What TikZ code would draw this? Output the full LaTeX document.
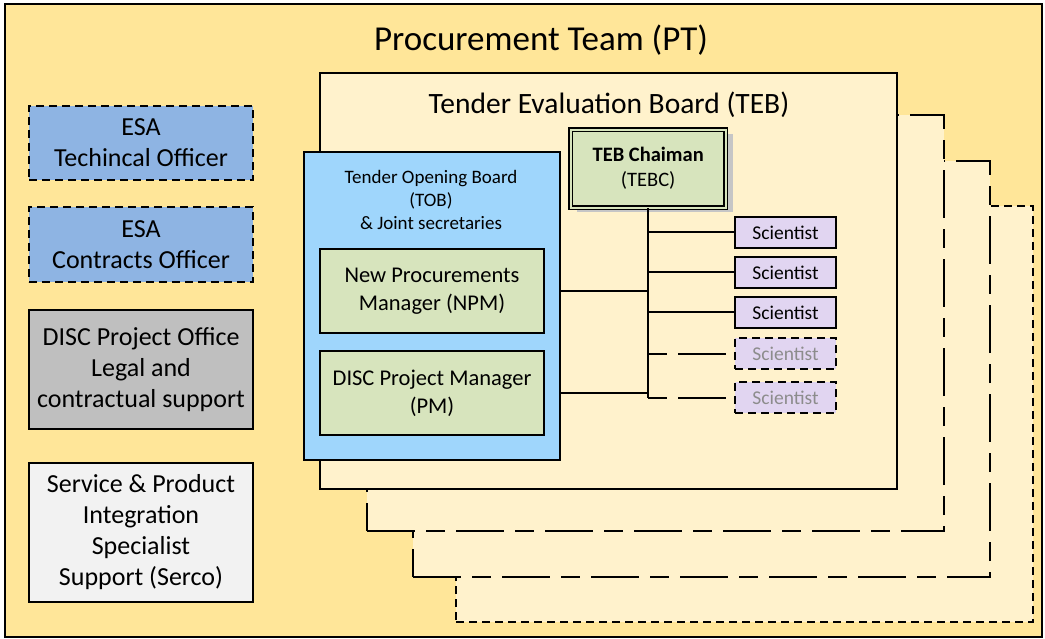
\documentclass[tikz,border=0pt]{standalone}
\usepackage{fontspec}
\setmainfont{Carlito}
\definecolor{ptbg}{HTML}{FFE699}
\definecolor{cream}{HTML}{FFF2CC}
\definecolor{tobblue}{HTML}{9FD6FC}
\definecolor{mgrgreen}{HTML}{D7E4BD}
\definecolor{lavender}{HTML}{E1D5F1}
\definecolor{esablue}{HTML}{8EB4E3}
\definecolor{officegrey}{HTML}{BFBFBF}
\definecolor{lightgrey}{HTML}{F2F2F2}
\definecolor{shadowgrey}{HTML}{C6C6C6}
\definecolor{fadedtext}{HTML}{8C8C8C}
\begin{document}
\begin{tikzpicture}[x=1pt,y=-1pt,
  box/.style={draw=black, line width=2pt, inner sep=0pt, align=center, anchor=north west},
  board/.style={box, fill=cream, minimum width=577pt, minimum height=416pt},
  longshort/.style={dash pattern=on 48pt off 11pt on 19pt off 11pt},
  shortdash/.style={dash pattern=on 8pt off 5pt},
  sidebox/.style={box, minimum width=224pt, font=\fontsize{26}{31}\selectfont},
  mgrbox/.style={box, fill=mgrgreen, minimum width=224pt, minimum height=84pt, font=\fontsize{22.5}{28}\selectfont},
  scibox/.style={box, fill=lavender, minimum width=101pt, minimum height=31pt, font=\fontsize{19.5}{21}\selectfont},
  faded/.style={scibox, shortdash, text=fadedtext},
  link/.style={line width=2pt},
  dashedlink/.style={line width=2pt, longshort, dash phase=59pt}]
\useasboundingbox (0,0) rectangle (1045,639);
\fill[white] (0,0) rectangle (1045,639);

% Procurement Team frame
\node[box, fill=ptbg, minimum width=1037pt, minimum height=633pt] (pt) at (4,3) {};
\node[font=\fontsize{35}{40}\selectfont] (pttitle) at (541,40) {Procurement Team (PT)};

% Left column of supporting roles
\node[sidebox, fill=esablue, shortdash, minimum height=74pt] (esatech) at (28,105) {ESA\\Techincal Officer};
\node[sidebox, fill=esablue, shortdash, minimum height=75pt] (esacon) at (28,206) {ESA\\Contracts Officer};
\node[sidebox, fill=officegrey, minimum height=119pt] (office) at (28,309) {DISC Project Office\\Legal and\\contractual support};
\node[sidebox, fill=lightgrey, minimum height=139pt] (serco) at (28,462) {Service \& Product\\Integration\\Specialist\\Support (Serco)};

% Stack of evaluation boards, back to front
\node[board, shortdash] (board4) at (455,205) {};
\node[board, longshort] (board3) at (412,160) {};
\node[board, longshort] (board2) at (366,114) {};
\node[board] (teb) at (319,72) {};
\node[font=\fontsize{29.5}{34}\selectfont] (tebtitle) at (609,105) {Tender Evaluation Board (TEB)};

% Tender Opening Board with its managers
\node[box, fill=tobblue, minimum width=256pt, minimum height=308pt] (tob) at (303,151) {};
\node[align=center, font=\fontsize{19}{23}\selectfont] (tobtitle) at (431,200) {Tender Opening Board\\(TOB)\\\& Joint secretaries};
\node[mgrbox] (npm) at (319,248) {New Procurements\\Manager (NPM)};
\node[mgrbox] (pm) at (319,350) {DISC Project Manager\\(PM)};

% Chairman with shadow and double border
\fill[shadowgrey] (577,134) rectangle (733,212);
\node[box, fill=mgrgreen, line width=1.4pt, double=mgrgreen, double distance=2.2pt, draw=black,
      minimum width=155pt, minimum height=78pt, font=\fontsize{20.5}{25}\selectfont] (tebc) at (570,129)
      {\textbf{TEB Chaiman}\\(TEBC)};

% Scientists
\node[scibox] (sci1) at (734,216) {Scientist};
\node[scibox] (sci2) at (734,256) {Scientist};
\node[scibox] (sci3) at (734,296) {Scientist};
\node[faded] (sci4) at (734,337) {Scientist};
\node[faded] (sci5) at (734,381) {Scientist};

% Reporting lines
\coordinate (trunkend) at (tebc.south |- sci5.west);
\draw[link] (tebc.south) -- (trunkend);
\draw[link] (tebc.south |- sci1.west) -- (sci1.west);
\draw[link] (tebc.south |- sci2.west) -- (sci2.west);
\draw[link] (tebc.south |- sci3.west) -- (sci3.west);
\draw[dashedlink] (tebc.south |- sci4.west) -- (sci4.west);
\draw[dashedlink] (trunkend) -- (sci5.west);
\draw[link] (tob.east |- npm.east) -- (tebc.south |- npm.east);
\draw[link] (tob.east |- pm.east) -- (tebc.south |- pm.east);
\end{tikzpicture}
\end{document}
